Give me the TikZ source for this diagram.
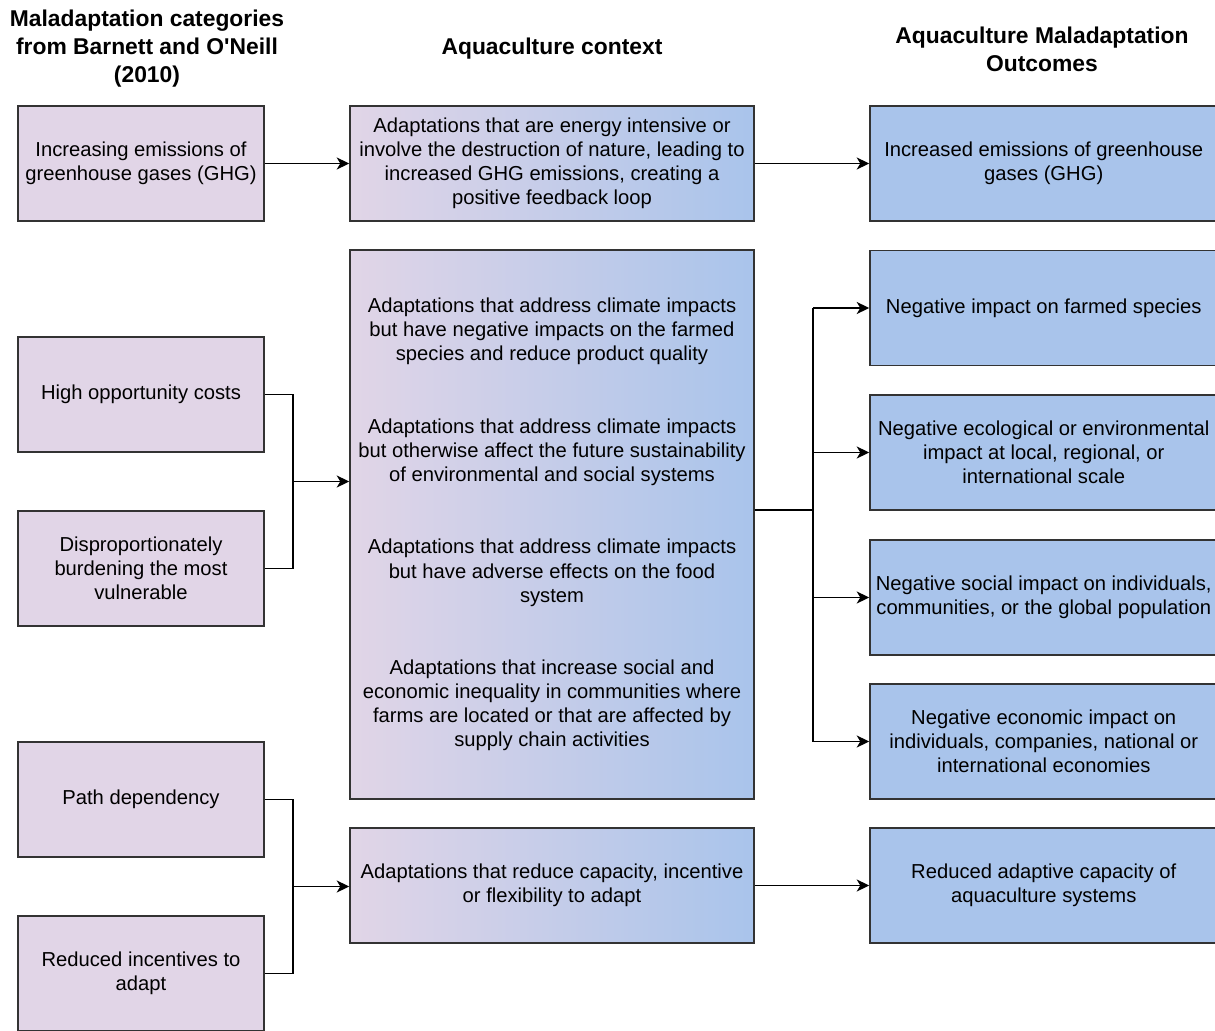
\documentclass[tikz,border=0pt]{standalone}
\usepackage{fontspec}
\setmainfont{Liberation Sans}
\usetikzlibrary{arrows.meta,calc}
\definecolor{catfill}{HTML}{E1D5E7}
\definecolor{outfill}{HTML}{A9C4EB}
\definecolor{boxline}{HTML}{333333}
\tikzset{
  box/.style={draw=boxline, line width=0.9pt, align=center, inner sep=0pt,
    font=\fontsize{11.5}{13.7}\selectfont},
  catbox/.style={box, fill=catfill, minimum width=4.92cm, minimum height=2.3cm},
  ctxbox/.style={box, left color=catfill, right color=outfill, minimum width=8.08cm, minimum height=2.3cm},
  outbox/.style={box, fill=outfill, minimum width=6.95cm, minimum height=2.3cm},
  head/.style={align=center, font=\bfseries\fontsize{13}{15.9}\selectfont},
  wire/.style={line width=0.9pt, draw=black},
  link/.style={wire, -{Stealth[length=2.5mm,width=2.4mm,inset=0.7mm]}}
}

\begin{document}
\begin{tikzpicture}[x=0.02cm, y=-0.02cm]
    \useasboundingbox (0,0) rectangle (1215,1031);

    % column heads
    \node[head] (hcat) at (147,49) {Maladaptation categories\\from Barnett and O\textquotesingle Neill\\(2010)};
    \node[head] (hctx) at (552,49) {Aquaculture context};
    \node[head] (hout) at (1042,49) {Aquaculture Maladaptation\\Outcomes};

    % categories
    \node[catbox] (ghg) at (141,163.5) {Increasing emissions of\\greenhouse gases (GHG)};
    \node[catbox] (opp) at (141,394.5) {High opportunity costs};
    \node[catbox] (dis) at (141,568.5) {Disproportionately\\burdening the most\\vulnerable};
    \node[catbox] (path) at (141,799.5) {Path dependency};
    \node[catbox] (inc) at (141,973.5) {Reduced incentives to\\adapt};

    % context
    \node[ctxbox] (ctxghg) at (552,163.5) {Adaptations that are energy intensive or\\involve the destruction of nature, leading to\\increased GHG emissions, creating a\\positive feedback loop};
    \node[ctxbox, minimum height=10.98cm] (ctx) at (552,524.5) {Adaptations that address climate impacts\\but have negative impacts on the farmed\\species and reduce product quality\\[0.97cm]
        Adaptations that address climate impacts\\but otherwise affect the future sustainability\\of environmental and social systems\\[0.97cm]
        Adaptations that address climate impacts\\but have adverse effects on the food\\system\\[0.97cm]
        Adaptations that increase social and\\economic inequality in communities where\\farms are located or that are affected by\\supply chain activities};
    \node[ctxbox] (ctxcap) at (552,885.5) {Adaptations that reduce capacity, incentive\\or flexibility to adapt};

    % outcomes
    \node[outbox] (outghg) at (1043.75,163.5) {Increased emissions of greenhouse\\gases (GHG)};
    \node[outbox] (farm) at (1043.75,308) {Negative impact on farmed species};
    \node[outbox] (eco) at (1043.75,452.5) {Negative ecological or environmental\\impact at local, regional, or\\international scale};
    \node[outbox] (soc) at (1043.75,597.5) {Negative social impact on individuals,\\communities, or the global population};
    \node[outbox] (econ) at (1043.75,741.5) {Negative economic impact on\\individuals, companies, national or\\international economies};
    \node[outbox] (cap) at (1043.75,885.5) {Reduced adaptive capacity of\\aquaculture systems};

    % connectors
    \draw (ghg) edge[link] (ctxghg)
          (ctxghg) edge[link] (outghg)
          (ctxcap) edge[link] (cap);

    \draw[wire] (opp.east) -- ++(28,0) |- (dis.east);
    \coordinate (jcat) at ($(opp.east)!0.5!(dis.east)+(28,0)$);
    \draw[link] (jcat) -- (jcat -| ctx.west);

    \draw[wire] (path.east) -- ++(28,0) |- (inc.east);
    \coordinate (jcap) at ($(path.east)!0.5!(inc.east)+(28,0)$);
    \draw[link] (jcap) -- (jcap -| ctxcap.west);

    \coordinate (jout) at ($(ctx.east)+(58,-14.5)$);
    \draw[wire] ([yshift=0.29cm]ctx.east) -- (jout);
    \draw[wire] (jout |- farm.west) -- (jout |- econ.west);
    \foreach \n in {farm,eco,soc,econ}
        \draw[link] (jout |- \n.west) -- (\n.west);
\end{tikzpicture}
\end{document}
